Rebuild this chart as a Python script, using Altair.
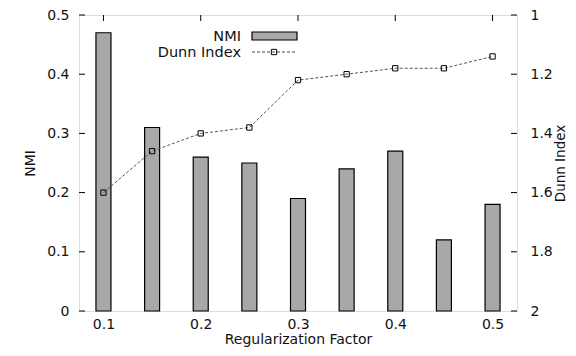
import altair as alt
import pandas as pd

# ---- data ----
reg_factor = [0.1, 0.15, 0.2, 0.25, 0.3, 0.35, 0.4, 0.45, 0.5]
nmi = [0.47, 0.31, 0.26, 0.25, 0.19, 0.24, 0.27, 0.12, 0.18]
dunn = [1.60, 1.46, 1.40, 1.38, 1.22, 1.20, 1.18, 1.18, 1.14]

x_ticks = [0.1, 0.2, 0.3, 0.4, 0.5]
nmi_ticks = [0, 0.1, 0.2, 0.3, 0.4, 0.5]
dunn_ticks = [1, 1.2, 1.4, 1.6, 1.8, 2]

df = pd.DataFrame({"x": reg_factor, "nmi": nmi, "dunn": dunn})
df_xt = pd.DataFrame({"x": x_ticks})
df_nt = pd.DataFrame({"y": nmi_ticks})
df_dt = pd.DataFrame({"y": dunn_ticks})
one = pd.DataFrame({"a": [0]})

W, H = 438, 296
FONT = "DejaVu Sans"
TXT = "#111111"

common = dict(labelFont=FONT, titleFont=FONT, labelFontSize=14,
              labelColor=TXT, titleColor=TXT, titleFontWeight="normal",
              ticks=False, domain=False, grid=False, labelFlush=False, labelOverlap=False)

x_scale = alt.Scale(domain=[0.08, 0.52], nice=False, zero=False)
nmi_scale = alt.Scale(domain=[0, 0.5], nice=False)
dunn_scale = alt.Scale(domain=[1, 2], nice=False, reverse=True)

x_axis = alt.Axis(values=x_ticks, format=".1f", labelPadding=6, titlePadding=1,
                  titleFontSize=14, **common)
left_axis = alt.Axis(values=nmi_ticks, format="~g", labelPadding=10, titlePadding=9,
                     titleFontSize=14, **common)
right_axis = alt.Axis(values=dunn_ticks, format="~g", orient="right", labelPadding=13,
                      titlePadding=15, titleAngle=270, titleFontSize=13.5, **common)

X = lambda f: alt.X(f + ":Q", scale=x_scale, axis=x_axis, title="Regularization Factor")

# ---- left (NMI) group ----
bottom_ticks = alt.Chart(df_xt).mark_rule(color="black").encode(
    x=X("x"), y=alt.value(H), y2=alt.value(H - 6))
top_ticks = alt.Chart(df_xt).mark_rule(color="black").encode(
    x=X("x"), y=alt.value(0), y2=alt.value(6))
bars = alt.Chart(df).mark_bar(size=15, color="#a8a8a8", stroke="black", strokeWidth=1.2).encode(
    x=X("x"),
    y=alt.Y("nmi:Q", scale=nmi_scale, axis=left_axis, title="NMI"),
)
left_ticks = alt.Chart(df_nt).mark_rule(color="black").encode(
    x=alt.value(0), x2=alt.value(6),
    y=alt.Y("y:Q", scale=nmi_scale, axis=left_axis, title="NMI"))

# legend drawn as decoration
leg_nmi_text = alt.Chart(one).mark_text(align="right", baseline="alphabetic", font=FONT,
                                        fontSize=14.5, color=TXT).encode(
    x=alt.value(162), y=alt.value(26), text=alt.value("NMI"))
leg_nmi_box = alt.Chart(one).mark_rect(color="#a8a8a8", stroke="black", strokeWidth=1.2).encode(
    x=alt.value(173), x2=alt.value(218), y=alt.value(17), y2=alt.value(25))
leg_dunn_text = alt.Chart(one).mark_text(align="right", baseline="alphabetic", font=FONT,
                                         fontSize=14.5, color=TXT).encode(
    x=alt.value(162), y=alt.value(42), text=alt.value("Dunn Index"))
leg_dunn_line = alt.Chart(one).mark_rule(color="#444444", strokeDash=[3, 2], strokeWidth=1).encode(
    x=alt.value(173), x2=alt.value(218), y=alt.value(37))
leg_dunn_pt = alt.Chart(one).mark_point(shape="square", size=28, filled=False, color="black",
                                        strokeWidth=1, opacity=1).encode(
    x=alt.value(195), y=alt.value(37))

left_group = alt.layer(bottom_ticks, top_ticks, bars, left_ticks,
                       leg_nmi_text, leg_nmi_box, leg_dunn_text, leg_dunn_line, leg_dunn_pt)

# ---- right (Dunn) group ----
line = alt.Chart(df).mark_line(color="#555555", strokeDash=[3, 2], strokeWidth=1).encode(
    x=X("x"),
    y=alt.Y("dunn:Q", scale=dunn_scale, axis=right_axis, title="Dunn Index"),
)
pts = alt.Chart(df).mark_point(shape="square", size=28, filled=False, color="black",
                               strokeWidth=1, opacity=1).encode(
    x=X("x"),
    y=alt.Y("dunn:Q", scale=dunn_scale, axis=right_axis, title="Dunn Index"),
)
right_ticks = alt.Chart(df_dt).mark_rule(color="black").encode(
    x=alt.value(W), x2=alt.value(W - 6),
    y=alt.Y("y:Q", scale=dunn_scale, axis=right_axis, title="Dunn Index"))
right_group = alt.layer(line, pts, right_ticks)

chart = (
    alt.layer(left_group, right_group)
    .resolve_scale(y="independent")
    .properties(width=W, height=H, autosize=alt.AutoSizeParams(type="none"),
                padding={"left": 71, "top": 7, "right": 51, "bottom": 37})
    .configure_view(stroke="black", strokeWidth=1.2)
    .configure(background="white")
)

chart.save("out.html", embed_options={"renderer": "svg", "actions": False})
